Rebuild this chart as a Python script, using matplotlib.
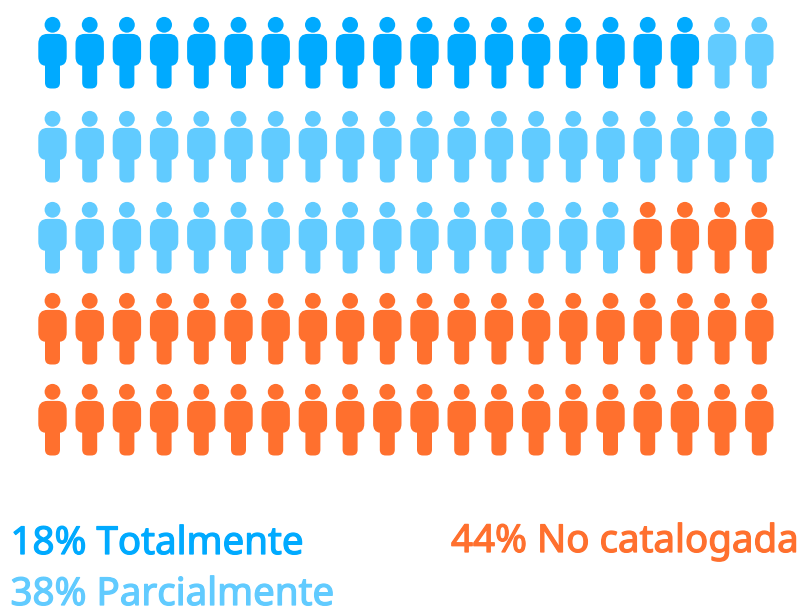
import matplotlib
matplotlib.use('Agg')
import matplotlib.pyplot as plt
import matplotlib.patheffects as pe
from matplotlib.path import Path
import numpy as np

# Share of each group, one person = 1%
labels = ['18% Totalmente', '38% Parcialmente', '44% No catalogada']
counts = [18, 38, 44]
colors = ['#00AAFF', '#61CBFF', '#FF702E']

# Pixel positions of the grid
col_x = [52.5, 89.7, 126.9, 164.1, 201.3, 238.5, 275.7, 312.9, 350.1, 387.3,
         424.5, 461.7, 498.9, 536.1, 573.3, 610.5, 647.7, 684.9, 722.1, 759.3]
row_y = [52.7, 146.7, 237.7, 328.7, 419.7]

# Person icon, centred on 0,0 with y pointing up
head = Path.circle((0, 27.9), 7.9)
body = Path(
    [(-14.2, 9), (-14.2, 18.8), (-5, 18.8), (5, 18.8), (14.2, 18.8), (14.2, 9),
     (14.2, -4), (14.2, -12.5), (7.5, -13), (7.5, -30), (7.5, -35.8), (1.5, -35.8),
     (-1.5, -35.8), (-7.5, -35.8), (-7.5, -30), (-7.5, -13), (-14.2, -12.5), (-14.2, -4),
     (-14.2, 9)],
    [Path.MOVETO, Path.CURVE3, Path.CURVE3, Path.LINETO, Path.CURVE3, Path.CURVE3,
     Path.LINETO, Path.CURVE3, Path.CURVE3, Path.LINETO, Path.CURVE3, Path.CURVE3,
     Path.LINETO, Path.CURVE3, Path.CURVE3, Path.LINETO, Path.CURVE3, Path.CURVE3,
     Path.LINETO])
person = Path.make_compound_path(head, body)

fig = plt.figure(figsize=(8.03, 6.11), dpi=100)
ax = fig.add_axes([0, 0, 1, 1])
ax.set_xlim(0, 803)
ax.set_ylim(611, 0)
ax.axis('off')

xs, ys = np.meshgrid(col_x, row_y)
xs = xs.ravel()
ys = ys.ravel()
cols = np.repeat(colors, counts)

# marker is scaled so its largest coordinate spans half of sqrt(s)
size_pt = 2 * 35.8 * 72 / 100
ax.scatter(xs, ys, s=size_pt ** 2, marker=person, c=cols, linewidths=0)

# Legend text, thin stroke to get the medium weight
font = dict(family='Noto Sans', fontsize=27.7, va='baseline')
for label, color, x, y in zip(labels, colors, [10.5, 10.5, 451], [554, 605, 552]):
    t = ax.text(x, y, label, color=color, **font)
    t.set_path_effects([pe.withStroke(linewidth=0.9, foreground=color)])

fig.savefig('out.png', dpi=100)
